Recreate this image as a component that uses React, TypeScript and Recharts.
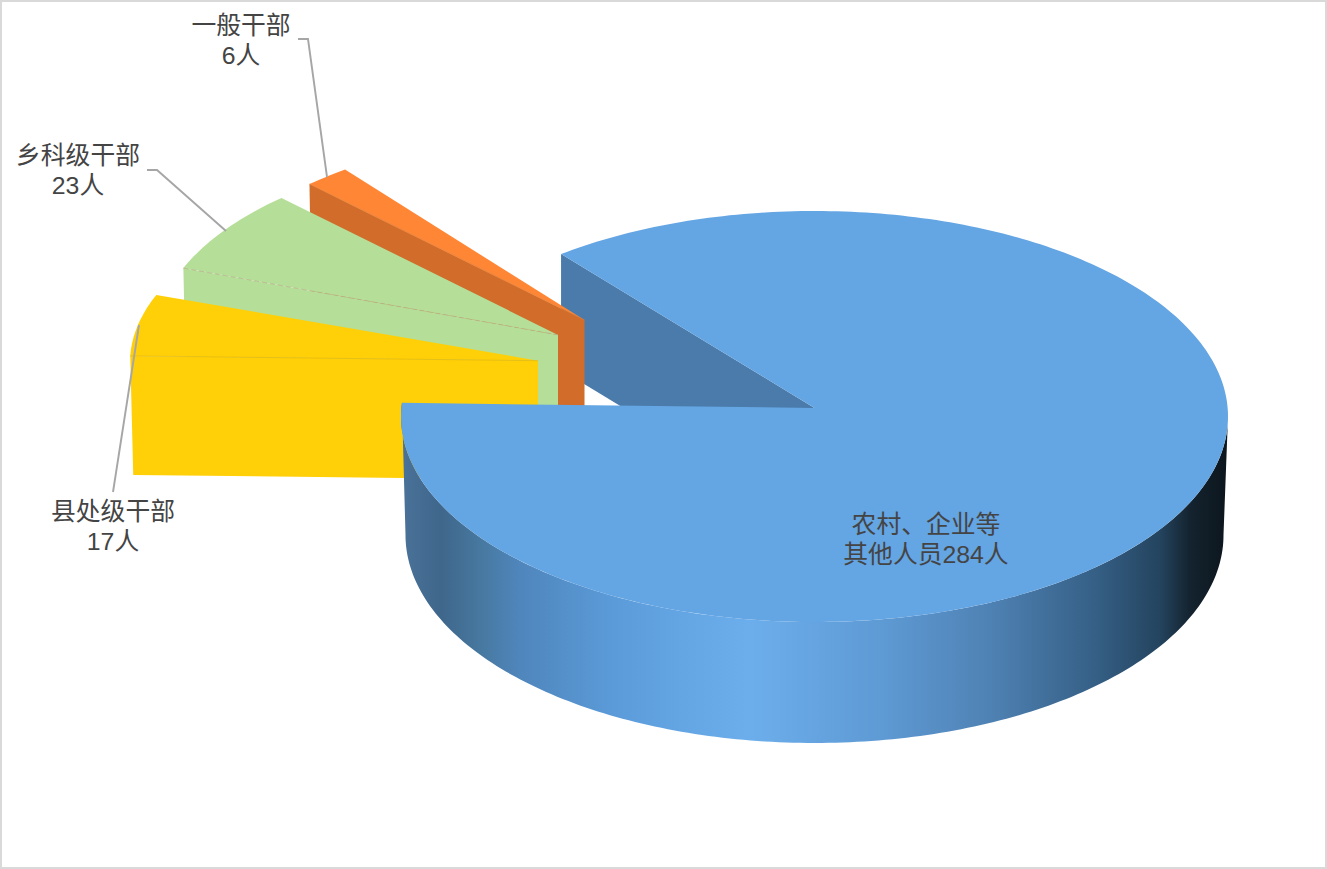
import React from "react";
import { PieChart, Pie } from "recharts";

// ---- data ----
const NAMES = ["一般干部", "乡科级干部", "县处级干部", "农村、企业等其他人员"];
const VALUES = [6, 23, 17, 284];
const LABEL_HEAD = ["一般干部", "乡科级干部", "县处级干部", "农村、企业等"];
const LABEL_TAIL = ["", "", "", "其他人员"];

// ---- styles ----
const TOP_COLORS = ["#ff8635", "#b5df98", "#ffcf08", "#64a5e3"];
const CUT_COLORS = ["#d16c2b", "#b5df98", "#ffcf08", "#4a7bab"];
const EDGE_COLORS = ["#e07a30", "#b9a98a", "#e3b80f", "#5f9bd6"];
const BLUE = NAMES.length - 1;

const FONT = '"Liberation Sans", "Noto Sans CJK SC", sans-serif';

// ---- 3D layout ----
const START_ANGLE = 127.8;
const CX = 814.5;
const CY = 416.5;
const RADIUS = 413.5;
const SQUASH = 205.5 / 413.5;
const SQUASH_EXPLODED = 193 / 413.5;
const APEX_LIFT = -8.5;
const BOTTOM_RX = 409 / 413.5;
const BOTTOM_SQUASH = 208 / 413.5;
const BOTTOM_DROP = 118.5;
const BLUE_CUT_DEPTH = 116;
const BLUE_START_PAD = 1.8;
const EXPLODED_DEPTH = 119;
const EXPLODED_LEAN = 3 / 408;
const EXPLODE = [
  { dx: -216, dy: -94.4, apexDx: -14, apexDy: -2 },
  { dx: -244, dy: -80.6, apexDx: -12.5, apexDy: -1 },
  { dx: -271, dy: -53.8, apexDx: -5.5, apexDy: -2 },
];
const LABEL_POS = [
  { x: 241, y: 34 },
  { x: 78, y: 164 },
  { x: 113, y: 520 },
  { x: 926, y: 533 },
];
const LEADERS = [
  [[298, 39], [308, 39], [327, 177]],
  [[147, 170], [157, 170], [226, 231]],
  [[113, 492], [139, 325]],
  [],
];

const GRADIENT = [
  [0, "#4a7197"],
  [0.044, "#3f668b"],
  [0.092, "#47789f"],
  [0.141, "#4f86bc"],
  [0.255, "#5b9bd9"],
  [0.417, "#6caeec"],
  [0.58, "#5e9ad4"],
  [0.71, "#4f82b4"],
  [0.84, "#355f85"],
  [0.917, "#24445f"],
  [0.954, "#14232f"],
  [1, "#0c151c"],
];

const tableData = NAMES.map((name, i) => ({ name, value: VALUES[i], fill: TOP_COLORS[i] }));

const rad = (a: number) => (a * Math.PI) / 180;
const pts = (list: number[][]) => list.map((p, i) => `${i ? "L" : "M"}${p[0].toFixed(2)} ${p[1].toFixed(2)}`).join(" ");

function arc(a0: number, a1: number, pt: (a: number) => number[]) {
  const n = Math.max(2, Math.ceil(Math.abs(a1 - a0)));
  const out: number[][] = [];
  for (let i = 0; i <= n; i++) out.push(pt(a0 + ((a1 - a0) * i) / n));
  return out;
}

function indexOfName(props: any) {
  return NAMES.indexOf(props.name ?? props.payload?.name);
}

function BlueCut(props: any) {
  if (indexOfName(props) !== BLUE) return <g />;
  const { cx, cy, outerRadius: r, endAngle } = props;
  const apex = [cx, cy + APEX_LIFT];
  const rim = [cx + r * Math.cos(rad(endAngle)), cy - r * SQUASH * Math.sin(rad(endAngle))];
  const d = pts([apex, rim, [rim[0], rim[1] + BLUE_CUT_DEPTH], [apex[0], apex[1] + BLUE_CUT_DEPTH]]) + " Z";
  return <path d={d} fill={CUT_COLORS[BLUE]} stroke="none" />;
}

function Slice3D(props: any) {
  const { cx, cy, outerRadius: r, startAngle, endAngle } = props;
  const i = indexOfName(props);
  if (i === BLUE) {
    const a0 = startAngle - BLUE_START_PAD;
    const top = (a: number) => [cx + r * Math.cos(rad(a)), cy - r * SQUASH * Math.sin(rad(a))];
    const bot = (a: number) => [
      cx + r * BOTTOM_RX * Math.cos(rad(a)),
      cy + BOTTOM_DROP - r * BOTTOM_SQUASH * Math.sin(rad(a)),
    ];
    const side = pts([...arc(a0, 360, top), ...arc(360, 180, bot)]) + " Z";
    const face = pts([[cx, cy + APEX_LIFT], ...arc(a0, endAngle, top)]) + " Z";
    return (
      <g>
        <path d={side} fill="url(#blueSide)" stroke="none" />
        <path d={face} fill={TOP_COLORS[i]} stroke="none" />
      </g>
    );
  }
  const e = EXPLODE[i];
  const top = (a: number) => [
    cx + r * Math.cos(rad(a)) + e.dx,
    cy - r * SQUASH_EXPLODED * Math.sin(rad(a)) + e.dy,
  ];
  const apex = [cx + e.dx + e.apexDx, cy + e.dy + e.apexDy];
  const cutRim = top(endAngle);
  const down = (p: number[]) => [p[0] + (apex[0] - p[0]) * EXPLODED_LEAN, p[1] + EXPLODED_DEPTH];
  const cut = pts([cutRim, apex, down(apex), down(cutRim)]) + " Z";
  const face = pts([apex, ...arc(startAngle, endAngle, top)]) + " Z";
  const dashed = i === 1 ? { strokeDasharray: "5 3" } : {};
  return (
    <g>
      <path d={cut} fill={CUT_COLORS[i]} stroke="none" />
      <path d={face} fill={TOP_COLORS[i]} stroke="none" />
      <path d={pts([cutRim, apex])} fill="none" stroke={EDGE_COLORS[i]} strokeWidth={1} opacity={0.7} {...dashed} />
    </g>
  );
}

function renderLabel(props: any) {
  const i = NAMES.indexOf(props.name ?? props.payload?.name);
  const pos = LABEL_POS[i];
  const leader = LEADERS[i];
  return (
    <g key={i}>
      {leader.length > 0 && <path d={pts(leader)} fill="none" stroke="#a6a6a6" strokeWidth={1.9} />}
      <text x={pos.x} y={pos.y} textAnchor="middle" fontFamily={FONT} fontSize={24.8} fill="#444444">
        {LABEL_HEAD[i]}
      </text>
      <text x={pos.x} y={pos.y + 30} textAnchor="middle" fontFamily={FONT} fontSize={24.8} fill="#444444">
        {`${LABEL_TAIL[i]}${VALUES[i]}人`}
      </text>
    </g>
  );
}

export default function App() {
  return (
    <div style={{ position: "absolute", left: 0, top: 0, width: 1327, height: 869, background: "#fff", overflow: "hidden" }}>
      <PieChart width={1327} height={869} margin={{ top: 0, right: 0, bottom: 0, left: 0 }}>
        <defs>
          <linearGradient id="blueSide" gradientUnits="userSpaceOnUse" x1={404} y1={0} x2={1228} y2={0}>
            {GRADIENT.map(([o, c]) => (
              <stop key={String(o)} offset={o as number} stopColor={c as string} />
            ))}
          </linearGradient>
        </defs>
        <Pie
          data={tableData}
          dataKey="value"
          nameKey="name"
          cx={CX}
          cy={CY}
          innerRadius={0}
          outerRadius={RADIUS}
          startAngle={START_ANGLE}
          endAngle={START_ANGLE + 360}
          paddingAngle={0}
          stroke="none"
          isAnimationActive={false}
          shape={BlueCut}
          label={false}
          labelLine={false}
        />
        <Pie
          data={tableData}
          dataKey="value"
          nameKey="name"
          cx={CX}
          cy={CY}
          innerRadius={0}
          outerRadius={RADIUS}
          startAngle={START_ANGLE}
          endAngle={START_ANGLE + 360}
          paddingAngle={0}
          stroke="none"
          isAnimationActive={false}
          shape={Slice3D}
          label={renderLabel}
          labelLine={false}
        />
      </PieChart>
      <div style={{ position: "absolute", inset: 0, boxSizing: "border-box", border: "2px solid #d9d9d9", pointerEvents: "none" }} />
    </div>
  );
}
